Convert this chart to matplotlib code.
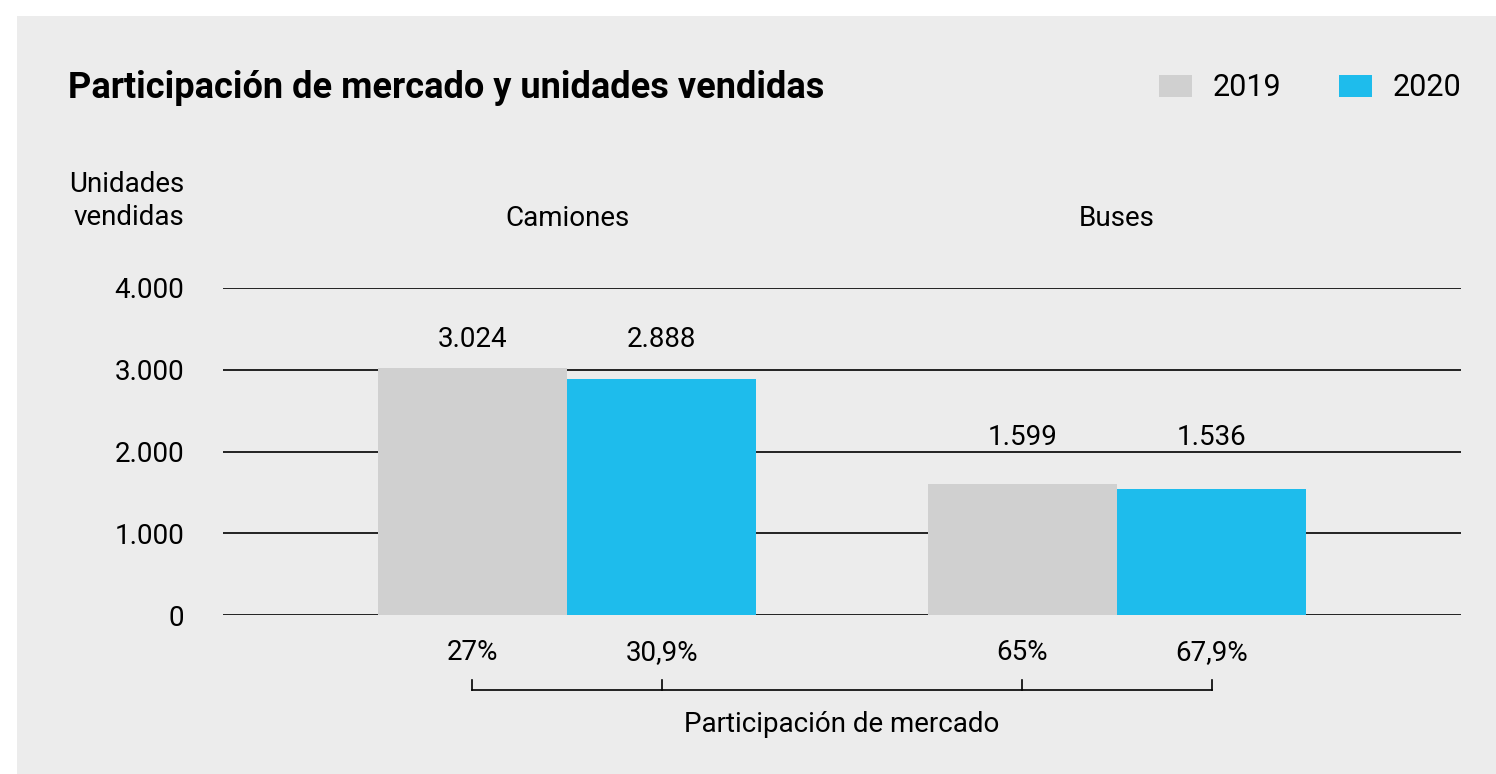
import matplotlib.pyplot as plt
import matplotlib.transforms as mtransforms
from matplotlib.patches import Rectangle
from matplotlib.ticker import FuncFormatter
import numpy as np

plt.rcParams['font.family'] = ['Roboto', 'DejaVu Sans']

categories = ['Camiones', 'Buses']
years = ['2019', '2020']
units_2019 = [3024, 1599]
units_2020 = [2888, 1536]
share_2019 = ['27%', '65%']
share_2020 = ['30,9%', '67,9%']
yticks = [0, 1000, 2000, 3000, 4000]

GRAY = '#d0d0d0'
BLUE = '#1ebcec'
BG = '#ececec'

W, H = 1496, 774
FS = 20


def fx(px):
    return px / W


def fy(py):
    return 1 - py / H


def thousands(v, pos=None):
    return f'{int(v):,}'.replace(',', '.')


fig = plt.figure(figsize=(W / 100, H / 100), dpi=100)
fig.patch.set_facecolor('white')
fig.patches.append(Rectangle((fx(17), 0), 1, fy(16), transform=fig.transFigure,
                             facecolor=BG, edgecolor='none', zorder=-5))

ax = fig.add_axes([fx(223), fy(615), fx(1461) - fx(223), fy(288) - fy(615)])
ax.set_facecolor('none')

x = np.arange(len(categories))
width = 0.3445
b1 = ax.bar(x - width / 2, units_2019, width, color=GRAY, label=years[0], zorder=2)
b2 = ax.bar(x + width / 2, units_2020, width, color=BLUE, label=years[1], zorder=2)

ax.set_xlim(-0.6255, 1.6255)
ax.set_ylim(0, 4000)
ax.set_yticks(yticks)
ax.yaxis.set_major_formatter(FuncFormatter(thousands))
ax.tick_params(axis='y', length=0, pad=28, labelsize=FS)
ax.set_xticks([])
ax.yaxis.grid(True, color='black', lw=1.2, zorder=1)
for s in ax.spines.values():
    s.set_visible(False)

# value labels above each group
label_heights = [3375, 2175]
for i in range(len(categories)):
    ax.text(x[i] - width / 2, label_heights[i], thousands(units_2019[i]),
            ha='center', va='center', fontsize=FS)
    ax.text(x[i] + width / 2, label_heights[i], thousands(units_2020[i]),
            ha='center', va='center', fontsize=FS)

# category names
blend = mtransforms.blended_transform_factory(ax.transData, fig.transFigure)
for i, c in enumerate(categories):
    ax.text(x[i], fy(219), c, transform=blend, ha='center', va='center', fontsize=FS)

# market share row and bracket
for i in range(len(categories)):
    ax.text(x[i] - width / 2, fy(653), share_2019[i], transform=blend,
            ha='center', va='center', fontsize=FS)
    ax.text(x[i] + width / 2, fy(653), share_2020[i], transform=blend,
            ha='center', va='center', fontsize=FS)

centers = np.concatenate([x - width / 2, x + width / 2])
ax.plot([centers.min(), centers.max()], [fy(690), fy(690)], transform=blend,
        color='black', lw=1.2, clip_on=False)
for c in centers:
    ax.plot([c, c], [fy(690), fy(680)], transform=blend, color='black', lw=1.2,
            clip_on=False)
ax.text((centers.min() + centers.max()) / 2, fy(724), 'Participación de mercado',
        transform=blend, ha='center', va='center', fontsize=FS)

# title, axis label, legend
fig.text(fx(68), fy(88), 'Participación de mercado y unidades vendidas',
         ha='left', va='center', fontsize=26, fontweight='bold')
fig.text(fx(184), fy(201), 'Unidades\nvendidas', ha='right', va='center',
         fontsize=FS, linespacing=1.3)

fig.legend(handles=[b1, b2], labels=years, loc='center right',
           bbox_to_anchor=(fx(1461), fy(88)), ncol=2, frameon=False,
           fontsize=22, handlelength=1.08, handleheight=0.72,
           handletextpad=0.66, columnspacing=1.9, borderpad=0, borderaxespad=0)

fig.savefig('out.png', dpi=100, facecolor=fig.get_facecolor())
